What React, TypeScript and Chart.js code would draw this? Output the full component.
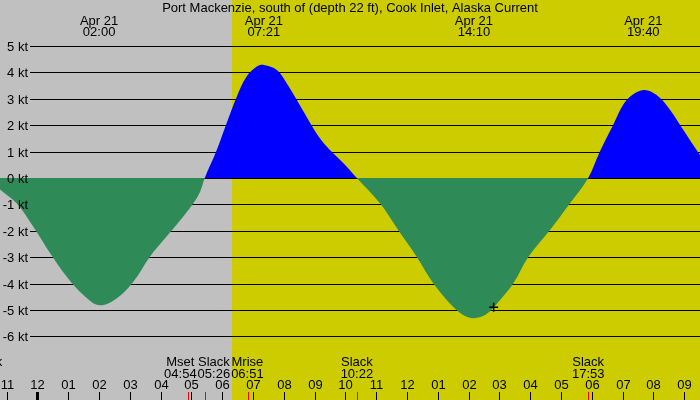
import { useEffect, useRef } from "react";
import { Chart, registerables } from "chart.js";

Chart.register(...registerables);

const TITLE = "Port Mackenzie, south of (depth 22 ft), Cook Inlet, Alaska Current";
const FONT = '13px "Liberation Sans", Arial, sans-serif';

// hours after midnight, Apr 21 -> current speed in knots (+ flood, - ebb)
const hours = [
  -1.22, -0.68, -0.14, 0.41, 0.95, 1.49, 2.0, 2.57, 3.11, 3.65, 4.19, 4.73,
  5.06, 5.28, 5.43, 5.82, 6.14, 6.47, 6.79, 7.12, 7.35, 7.77, 8.09, 8.42,
  8.74, 9.06, 9.39, 9.71, 10.04, 10.37, 11.12, 11.71, 12.31, 12.85, 13.39,
  13.82, 14.17, 14.58, 15.02, 15.45, 15.94, 16.64, 17.29, 17.88, 18.26,
  18.69, 19.13, 19.67, 20.1, 20.54, 20.97, 21.29, 21.51,
];
const knots = [
  -0.43, -0.96, -1.84, -2.85, -3.74, -4.43, -4.82, -4.56, -3.93, -2.98,
  -2.22, -1.47, -0.96, -0.52, 0, 1.06, 2.07, 3.08, 3.84, 4.22, 4.28, 4.09,
  3.59, 2.95, 2.31, 1.69, 1.19, 0.81, 0.43, 0, -0.96, -1.97, -2.98, -3.99,
  -4.75, -5.19, -5.31, -5.15, -4.62, -3.99, -2.98, -1.97, -0.96, 0, 1.0,
  2.01, 2.95, 3.33, 3.14, 2.58, 1.82, 1.25, 0.87,
];

// max flood / max ebb labels along the top
const peakHours = [2.0, 7.35, 14.17, 19.67];
const peakDates = ["Apr 21", "Apr 21", "Apr 21", "Apr 21"];
const peakTimes = ["02:00", "07:21", "14:10", "19:40"];

// events along the bottom
const eventHours = [-1.66, 4.9, 5.43, 6.85, 10.37, 17.88];
const eventNames = ["Slack", "Mset", "Slack", "Mrise", "Slack", "Slack"];
const eventTimes = ["", "04:54", "05:26", "06:51", "10:22", "17:53"];

const hourTicks = [
  -1, 0, 1, 2, 3, 4, 5, 6, 7, 8, 9, 10, 11, 12, 13, 14, 15, 16, 17, 18, 19, 20, 21,
];
const hourLabels = [
  "11", "12", "01", "02", "03", "04", "05", "06", "07", "08", "09", "10",
  "11", "12", "01", "02", "03", "04", "05", "06", "07", "08", "09",
];
const ktTicks = [5, 4, 3, 2, 1, 0, -1, -2, -3, -4, -5, -6];
const ktLabels = ktTicks.map((k) => `${k} kt`);

const sunriseHour = 6.32;
const nowHour = 14.81;
const nowKnots = -4.9;

const NIGHT = "#c0c0c0";
const DAY = "#cccc00";

const tidePlugin = {
  id: "tide",
  beforeDatasetsDraw(chart: any) {
    const { ctx, chartArea: a, scales } = chart;
    const x = scales.x;
    const y = scales.y;
    ctx.save();
    const sx = Math.round(x.getPixelForValue(sunriseHour));
    ctx.fillStyle = NIGHT;
    ctx.fillRect(a.left, a.top, sx - a.left, a.bottom - a.top);
    ctx.fillStyle = DAY;
    ctx.fillRect(sx, a.top, a.right - sx, a.bottom - a.top);

    ctx.fillStyle = "#000";
    for (const k of ktTicks) {
      const py = Math.round(y.getPixelForValue(k));
      ctx.fillRect(30, py, a.right - 30, 1);
    }
    ctx.restore();
  },
  afterDatasetsDraw(chart: any) {
    const { ctx, chartArea: a, scales } = chart;
    const x = scales.x;
    const y = scales.y;
    ctx.save();
    ctx.font = FONT;
    ctx.fillStyle = "#000";

    // title
    ctx.textAlign = "center";
    ctx.fillText(TITLE, (a.left + a.right) / 2, 12);

    // peak labels
    peakHours.forEach((h, i) => {
      const px = x.getPixelForValue(h);
      ctx.fillText(peakDates[i], px, 24.5);
      ctx.fillText(peakTimes[i], px, 36);
    });

    // y labels
    ctx.textAlign = "right";
    ktTicks.forEach((k, i) => {
      const py = Math.round(y.getPixelForValue(k));
      ctx.fillText(ktLabels[i], 28, py + 5);
    });

    // hour ticks
    ctx.textAlign = "center";
    hourTicks.forEach((h, i) => {
      const px = Math.round(x.getPixelForValue(h));
      if (h === 0) ctx.fillRect(px - 1, 392, 3, 8);
      else ctx.fillRect(px, 392, 1, 8);
      ctx.fillText(hourLabels[i], px + 0.5, 389);
    });

    // event ticks
    ctx.fillStyle = "#ff0000";
    eventHours.forEach((h) => {
      const px = Math.round(x.getPixelForValue(h));
      ctx.fillRect(px, 392, 1, 8);
    });

    // event labels, clustered so they don't overlap
    type Cl = { idx: number[]; center: number; width: number };
    const widths = eventHours.map(
      (_, i) =>
        Math.max(ctx.measureText(eventNames[i]).width, ctx.measureText(eventTimes[i]).width) + 1,
    );
    let clusters: Cl[] = eventHours.map((h, i) => ({
      idx: [i],
      center: x.getPixelForValue(h),
      width: widths[i],
    }));
    let merged = true;
    while (merged) {
      merged = false;
      clusters.sort((p, q) => p.center - q.center);
      for (let i = 0; i < clusters.length - 1; i++) {
        const p = clusters[i];
        const q = clusters[i + 1];
        if (p.center + p.width / 2 + 4 > q.center - q.width / 2) {
          const idx = [...p.idx, ...q.idx].sort((m, n) => eventHours[m] - eventHours[n]);
          const mean =
            idx.reduce((s, j) => s + x.getPixelForValue(eventHours[j]), 0) / idx.length;
          const width = idx.reduce((s, j) => s + widths[j], 0);
          clusters.splice(i, 2, { idx, center: mean, width });
          merged = true;
          break;
        }
      }
    }
    ctx.fillStyle = "#000";
    for (const c of clusters) {
      let left = c.center - c.width / 2;
      for (const j of c.idx) {
        const cx = left + widths[j] / 2;
        ctx.fillText(eventNames[j], cx, 366);
        if (eventTimes[j]) ctx.fillText(eventTimes[j], cx, 377.5);
        left += widths[j];
      }
    }
    ctx.restore();
  },
};

export default function App() {
  const canvasRef = useRef<HTMLCanvasElement>(null);

  useEffect(() => {
    if (!canvasRef.current) return;
    const chart = new Chart(canvasRef.current, {
      type: "line",
      data: {
        datasets: [
          {
            label: "Current",
            data: hours.map((h, i) => ({ x: h, y: knots[i] })),
            borderWidth: 0,
            borderColor: "rgba(0,0,0,0)",
            pointRadius: 0,
            tension: 0.35,
            fill: { target: "origin", above: "#0000ff", below: "#2e8b57" },
            order: 1,
          },
          {
            type: "scatter",
            label: "Now",
            data: [{ x: nowHour, y: nowKnots }],
            pointStyle: "cross",
            pointRadius: 4.5,
            borderColor: "#000",
            borderWidth: 1.5,
            clip: false,
            order: 0,
          } as any,
        ],
      },
      options: {
        responsive: false,
        animation: false,
        layout: { padding: 0, autoPadding: false },
        plugins: {
          legend: { display: false },
          tooltip: { enabled: false },
          title: { display: false },
        },
        scales: {
          x: { type: "linear", min: -1.2175, max: 21.51, display: false },
          y: { type: "linear", min: -8.409, max: 6.742, display: false },
        },
      },
      plugins: [tidePlugin],
    });
    return () => chart.destroy();
  }, []);

  return (
    <div style={{ position: "fixed", left: 0, top: 0, width: 700, height: 400 }}>
      <canvas ref={canvasRef} width={700} height={400} style={{ display: "block" }} />
    </div>
  );
}
